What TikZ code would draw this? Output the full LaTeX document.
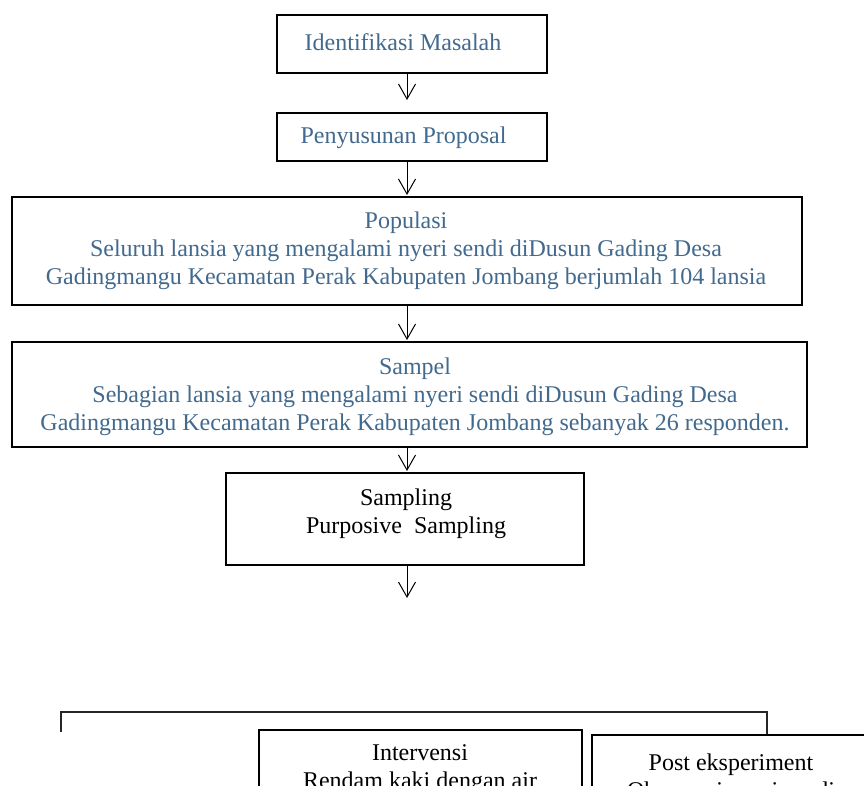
\documentclass[tikz,border=0pt]{standalone}
\usepackage{fontspec}
\setmainfont{Liberation Serif}
\usetikzlibrary{arrows.meta}
\definecolor{bluetxt}{RGB}{66,106,142}
\tikzset{
  box/.style={draw=black, line width=1.1pt, rectangle, inner sep=0pt},
  btxt/.style={text=bluetxt, inner sep=0pt, align=center, font=\fontsize{24}{28}\selectfont},
  ktxt/.style={text=black, inner sep=0pt, align=center, font=\fontsize{24}{28}\selectfont},
  arr/.style={draw=black, line width=1pt, -{Straight Barb[length=15pt,width=17pt,line width=1pt]}},
  lin/.style={draw=black!85, line width=1.1pt}
}
\begin{document}
\begin{tikzpicture}[x=1pt,y=-1pt]
\useasboundingbox (0,0) rectangle (864,785);
\fill[white] (0,0) rectangle (864,785);
\clip (0,0) rectangle (864,785);
\coordinate (ax) at (407,0);
% boxes
\node[box, minimum width=270pt, minimum height=58pt] (b1) at (412,44) {};
\node[btxt] (t1) at (403,42) {Identifikasi Masalah};
\node[box, minimum width=270pt, minimum height=48pt] (b2) at (412,137) {};
\node[btxt] (t2) at (403.5,138) {Penyusunan Proposal};
\node[box, minimum width=790pt, minimum height=108pt] (b3) at (407,251) {};
\node[btxt] (t3) at (406,251) {Populasi\\Seluruh lansia yang mengalami nyeri sendi diDusun Gading Desa\\Gadingmangu Kecamatan Perak Kabupaten Jombang berjumlah 104 lansia};
\node[box, minimum width=795pt, minimum height=105pt] (b4) at (409.5,394.5) {};
\node[btxt] (t4) at (415,397) {Sampel\\Sebagian lansia yang mengalami nyeri sendi diDusun Gading Desa\\Gadingmangu Kecamatan Perak Kabupaten Jombang sebanyak 26 responden.};
\node[box, minimum width=358pt, minimum height=92pt] (b5) at (405,519) {};
\node[ktxt] (t5) at (406,514) {Sampling\\Purposive\ \ Sampling};
% arrows
\coordinate (e1) at (407,100);
\coordinate (e2) at (407,195);
\coordinate (e3) at (407,340);
\coordinate (e4) at (407,471);
\coordinate (e5) at (407,598);
\draw[arr] (b1.south -| ax) -- (e1);
\draw[arr] (b2.south -| ax) -- (e2);
\draw[arr] (b3.south -| ax) -- (e3);
\draw[arr] (b4.south -| ax) -- (e4);
\draw[arr] (b5.south -| ax) -- (e5);
% bottom bracket
\coordinate (l1) at (61,732);
\coordinate (l2) at (61,712);
\coordinate (l3) at (767,712);
\coordinate (l4) at (767,734);
\draw[lin] (l1) -- (l2) -- (l3) -- (l4);
% bottom boxes (cut off by the page edge, as in the reference)
\node[box, minimum width=323pt, minimum height=100pt] (b6) at (420.5,780) {};
\node[ktxt] (t6) at (420,769) {Intervensi\\Rendam kaki dengan air};
\node[box, minimum width=300pt, minimum height=100pt] (b7) at (742,785) {};
\node[ktxt] (t7) at (731,779) {Post eksperiment\\Observasi nyeri sendi};
\end{tikzpicture}
\end{document}
